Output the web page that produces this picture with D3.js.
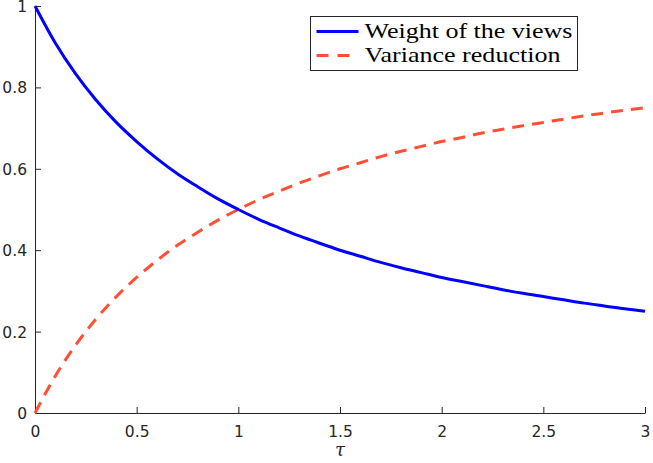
<!DOCTYPE html>
<html>
<head>
<meta charset="utf-8">
<script src="https://cdn.jsdelivr.net/npm/d3@7"></script>
<style>
  body { margin: 0; background: #fff; }
</style>
</head>
<body>
<svg id="chart" width="653" height="463"></svg>
<script>
// values
const tau = [0, 0.1, 0.2, 0.3, 0.4, 0.5, 0.6, 0.7, 0.8, 0.9, 1.0,
    1.1, 1.2, 1.3, 1.4, 1.5, 1.6, 1.7, 1.8, 1.9, 2.0,
    2.1, 2.2, 2.3, 2.4, 2.5, 2.6, 2.7, 2.8, 2.9, 3.0];
const weightViews = [1, 0.909, 0.833, 0.769, 0.714, 0.667, 0.625, 0.588, 0.556, 0.526, 0.5,
    0.476, 0.455, 0.435, 0.417, 0.4, 0.385, 0.370, 0.357, 0.345, 0.333,
    0.323, 0.313, 0.303, 0.294, 0.286, 0.278, 0.270, 0.263, 0.256, 0.25];
const varianceReduction = [0, 0.091, 0.167, 0.231, 0.286, 0.333, 0.375, 0.412, 0.444, 0.474, 0.5,
    0.524, 0.545, 0.565, 0.583, 0.6, 0.615, 0.630, 0.643, 0.655, 0.667,
    0.677, 0.688, 0.697, 0.706, 0.714, 0.722, 0.730, 0.737, 0.744, 0.75];
const xTicks = [0, 0.5, 1, 1.5, 2, 2.5, 3];
const yTicks = [0, 0.2, 0.4, 0.6, 0.8, 1];
const seriesNames = ["Weight of the views", "Variance reduction"];

let svg = d3.select("#chart"),
    margin = {top: 6, right: 8, bottom: 50, left: 35},
    width = 653 - margin.left - margin.right,
    height = 463 - margin.top - margin.bottom,
    g = svg.append("g").attr("transform", "translate(" + margin.left + "," + margin.top + ")");

let x = d3.scaleLinear().domain([0, 3]).range([0, width]);
let y = d3.scaleLinear().domain([0, 1]).range([height, 0]);

// axes, ticks pointing inward
let xAxis = g.append("g")
    .attr("transform", "translate(0," + height + ")")
    .call(d3.axisBottom(x).tickValues(xTicks).tickFormat(d3.format("")).tickSizeInner(-6).tickSizeOuter(0).tickPadding(12.5));

let yAxis = g.append("g")
    .call(d3.axisLeft(y).tickValues(yTicks).tickFormat(d3.format("")).tickSizeInner(-6).tickSizeOuter(0).tickPadding(8));

[xAxis, yAxis].forEach(function (ax) {
    ax.attr("font-size", 15.5).attr("font-family", "'DejaVu Sans', sans-serif");
    ax.selectAll("text")
        .attr("font-size", 15.5)
        .attr("fill", "#262626");
    ax.selectAll("line, path").attr("stroke", "#262626");
});
yAxis.selectAll("text").attr("dy", "0.36em");

let line = d3.line()
    .x(function (d) { return x(d[0]); })
    .y(function (d) { return y(d[1]); })
    .curve(d3.curveMonotoneX);

g.append("path")
    .datum(tau.map((t, i) => [t, varianceReduction[i]]))
    .attr("fill", "none")
    .attr("stroke", "#ff5036")
    .attr("stroke-width", 3)
    .attr("stroke-dasharray", "12,8")
    .attr("d", line);

g.append("path")
    .datum(tau.map((t, i) => [t, weightViews[i]]))
    .attr("fill", "none")
    .attr("stroke", "#0000ff")
    .attr("stroke-width", 3)
    .attr("d", line);

// x label
svg.append("text")
    .attr("x", margin.left + width / 2)
    .attr("y", 456)
    .attr("text-anchor", "middle")
    .style("font-family", "'DejaVu Serif', serif")
    .style("font-style", "italic")
    .style("font-size", "18px")
    .style("fill", "#262626")
    .text("τ");

// legend
let legend = svg.append("g").attr("transform", "translate(310.5,16.5)");
legend.append("rect")
    .attr("width", 267)
    .attr("height", 54)
    .attr("fill", "#fff")
    .attr("stroke", "#262626")
    .attr("stroke-width", 1);

let legendStyles = [
    {color: "#0000ff", dash: null},
    {color: "#ff5036", dash: "12,9"}
];
seriesNames.forEach(function (name, i) {
    let row = legend.append("g").attr("transform", "translate(0," + (15 + i * 24) + ")");
    row.append("line")
        .attr("x1", 6).attr("x2", 48)
        .attr("stroke", legendStyles[i].color)
        .attr("stroke-width", 3)
        .attr("stroke-dasharray", legendStyles[i].dash);
    row.append("text")
        .attr("x", 54)
        .attr("y", 6)
        .attr("textLength", i === 0 ? 208 : 196)
        .attr("lengthAdjust", "spacingAndGlyphs")
        .style("font-family", "'Liberation Serif', serif")
        .style("font-size", "21px")
        .style("fill", "#000")
        .text(name);
});
</script>
</body>
</html>
